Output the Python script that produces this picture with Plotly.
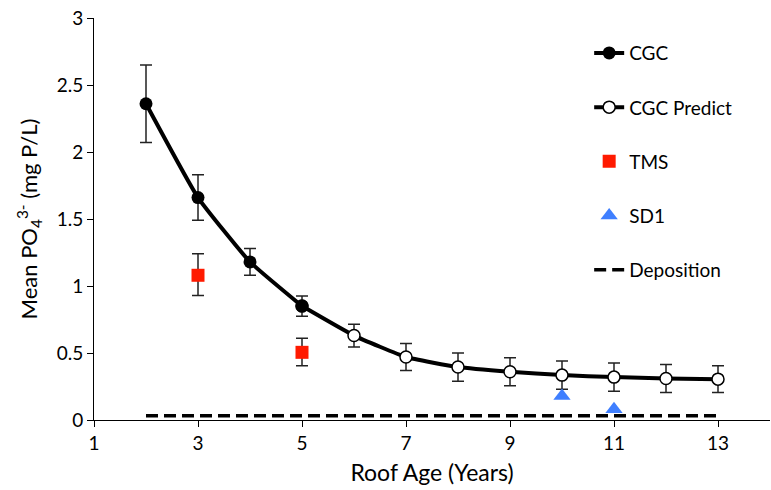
import plotly.graph_objects as go

# Data
cgc_x = [2, 3, 4, 5]
cgc_y = [2.36, 1.66, 1.18, 0.85]
cgc_err_plus = [0.29, 0.17, 0.10, 0.075]
cgc_err_minus = [0.29, 0.17, 0.10, 0.075]

pred_x = [5, 6, 7, 8, 9, 10, 11, 12, 13]
pred_y = [0.85, 0.63, 0.47, 0.395, 0.36, 0.335, 0.32, 0.31, 0.305]
pred_err = [0.0, 0.085, 0.10, 0.105, 0.105, 0.105, 0.105, 0.105, 0.10]

tms_x = [3, 5]
tms_y = [1.08, 0.505]
tms_err_plus = [0.16, 0.105]
tms_err_minus = [0.15, 0.10]

sd1_x = [10, 11]
sd1_y = [0.18, 0.08]

dep_x = [2, 13]
dep_y = [0.032, 0.032]

FONT = "Lato, 'Open Sans', sans-serif"

fig = go.Figure()

fig.add_trace(go.Scatter(
    x=pred_x, y=pred_y, name="CGC Predict", mode="lines+markers",
    line=dict(color="black", width=4, shape="spline", smoothing=0.4),
    marker=dict(symbol="circle", size=12, color="white", line=dict(color="black", width=1.5)),
    error_y=dict(type="data", array=pred_err, color="#222", thickness=1.5, width=6),
    legendgroup="b", legendrank=2,
))
fig.add_trace(go.Scatter(
    x=cgc_x, y=cgc_y, name="CGC", mode="lines+markers",
    line=dict(color="black", width=4, shape="spline", smoothing=0.4),
    marker=dict(symbol="circle", size=13, color="black"),
    error_y=dict(type="data", array=cgc_err_plus, arrayminus=cgc_err_minus,
                 color="#222", thickness=1.5, width=6),
    legendgroup="a", legendrank=1,
))
fig.add_trace(go.Scatter(
    x=tms_x, y=tms_y, name="TMS", mode="markers",
    marker=dict(symbol="square", size=13, color="#FF1A00"),
    error_y=dict(type="data", array=tms_err_plus, arrayminus=tms_err_minus,
                 color="#222", thickness=1.5, width=6),
    legendgroup="c", legendrank=3,
))
fig.add_trace(go.Scatter(
    x=sd1_x, y=sd1_y, name="SD1", mode="markers",
    marker=dict(symbol="triangle-up", size=15, color="#3F7FFF"),
    legendgroup="d", legendrank=4,
))
fig.add_trace(go.Scatter(
    x=dep_x, y=dep_y, name="Deposition", mode="lines",
    line=dict(color="black", width=3.5, dash="12px,6px"),
    legendgroup="e", legendrank=5,
))

fig.update_layout(
    width=771, height=490,
    margin=dict(l=94, r=1, t=18, b=70),
    plot_bgcolor="white", paper_bgcolor="white",
    font=dict(family=FONT, color="black", size=19),
    legend=dict(x=0.7325, y=0.96, xanchor="left", yanchor="top",
                tracegroupgap=26.5, font=dict(size=19), bgcolor="rgba(0,0,0,0)"),
    xaxis=dict(range=[1, 14], tickvals=[1, 3, 5, 7, 9, 11, 13],
               showline=True, linecolor="black", linewidth=1,
               ticks="outside", ticklen=6, tickcolor="black",
               showgrid=False, zeroline=False,
               title=dict(text="Roof Age (Years)", font=dict(size=23), standoff=12),
               tickfont=dict(size=19)),
    yaxis=dict(range=[0, 3], dtick=0.5,
               showline=True, linecolor="black", linewidth=1,
               ticks="outside", ticklen=6, tickcolor="black",
               showgrid=False, zeroline=False,
               title=dict(text="Mean PO<sub>4</sub><sup>3-</sup> (mg P/L)", font=dict(size=22), standoff=12),
               tickfont=dict(size=19)),
)

fig.write_html("out.html")
